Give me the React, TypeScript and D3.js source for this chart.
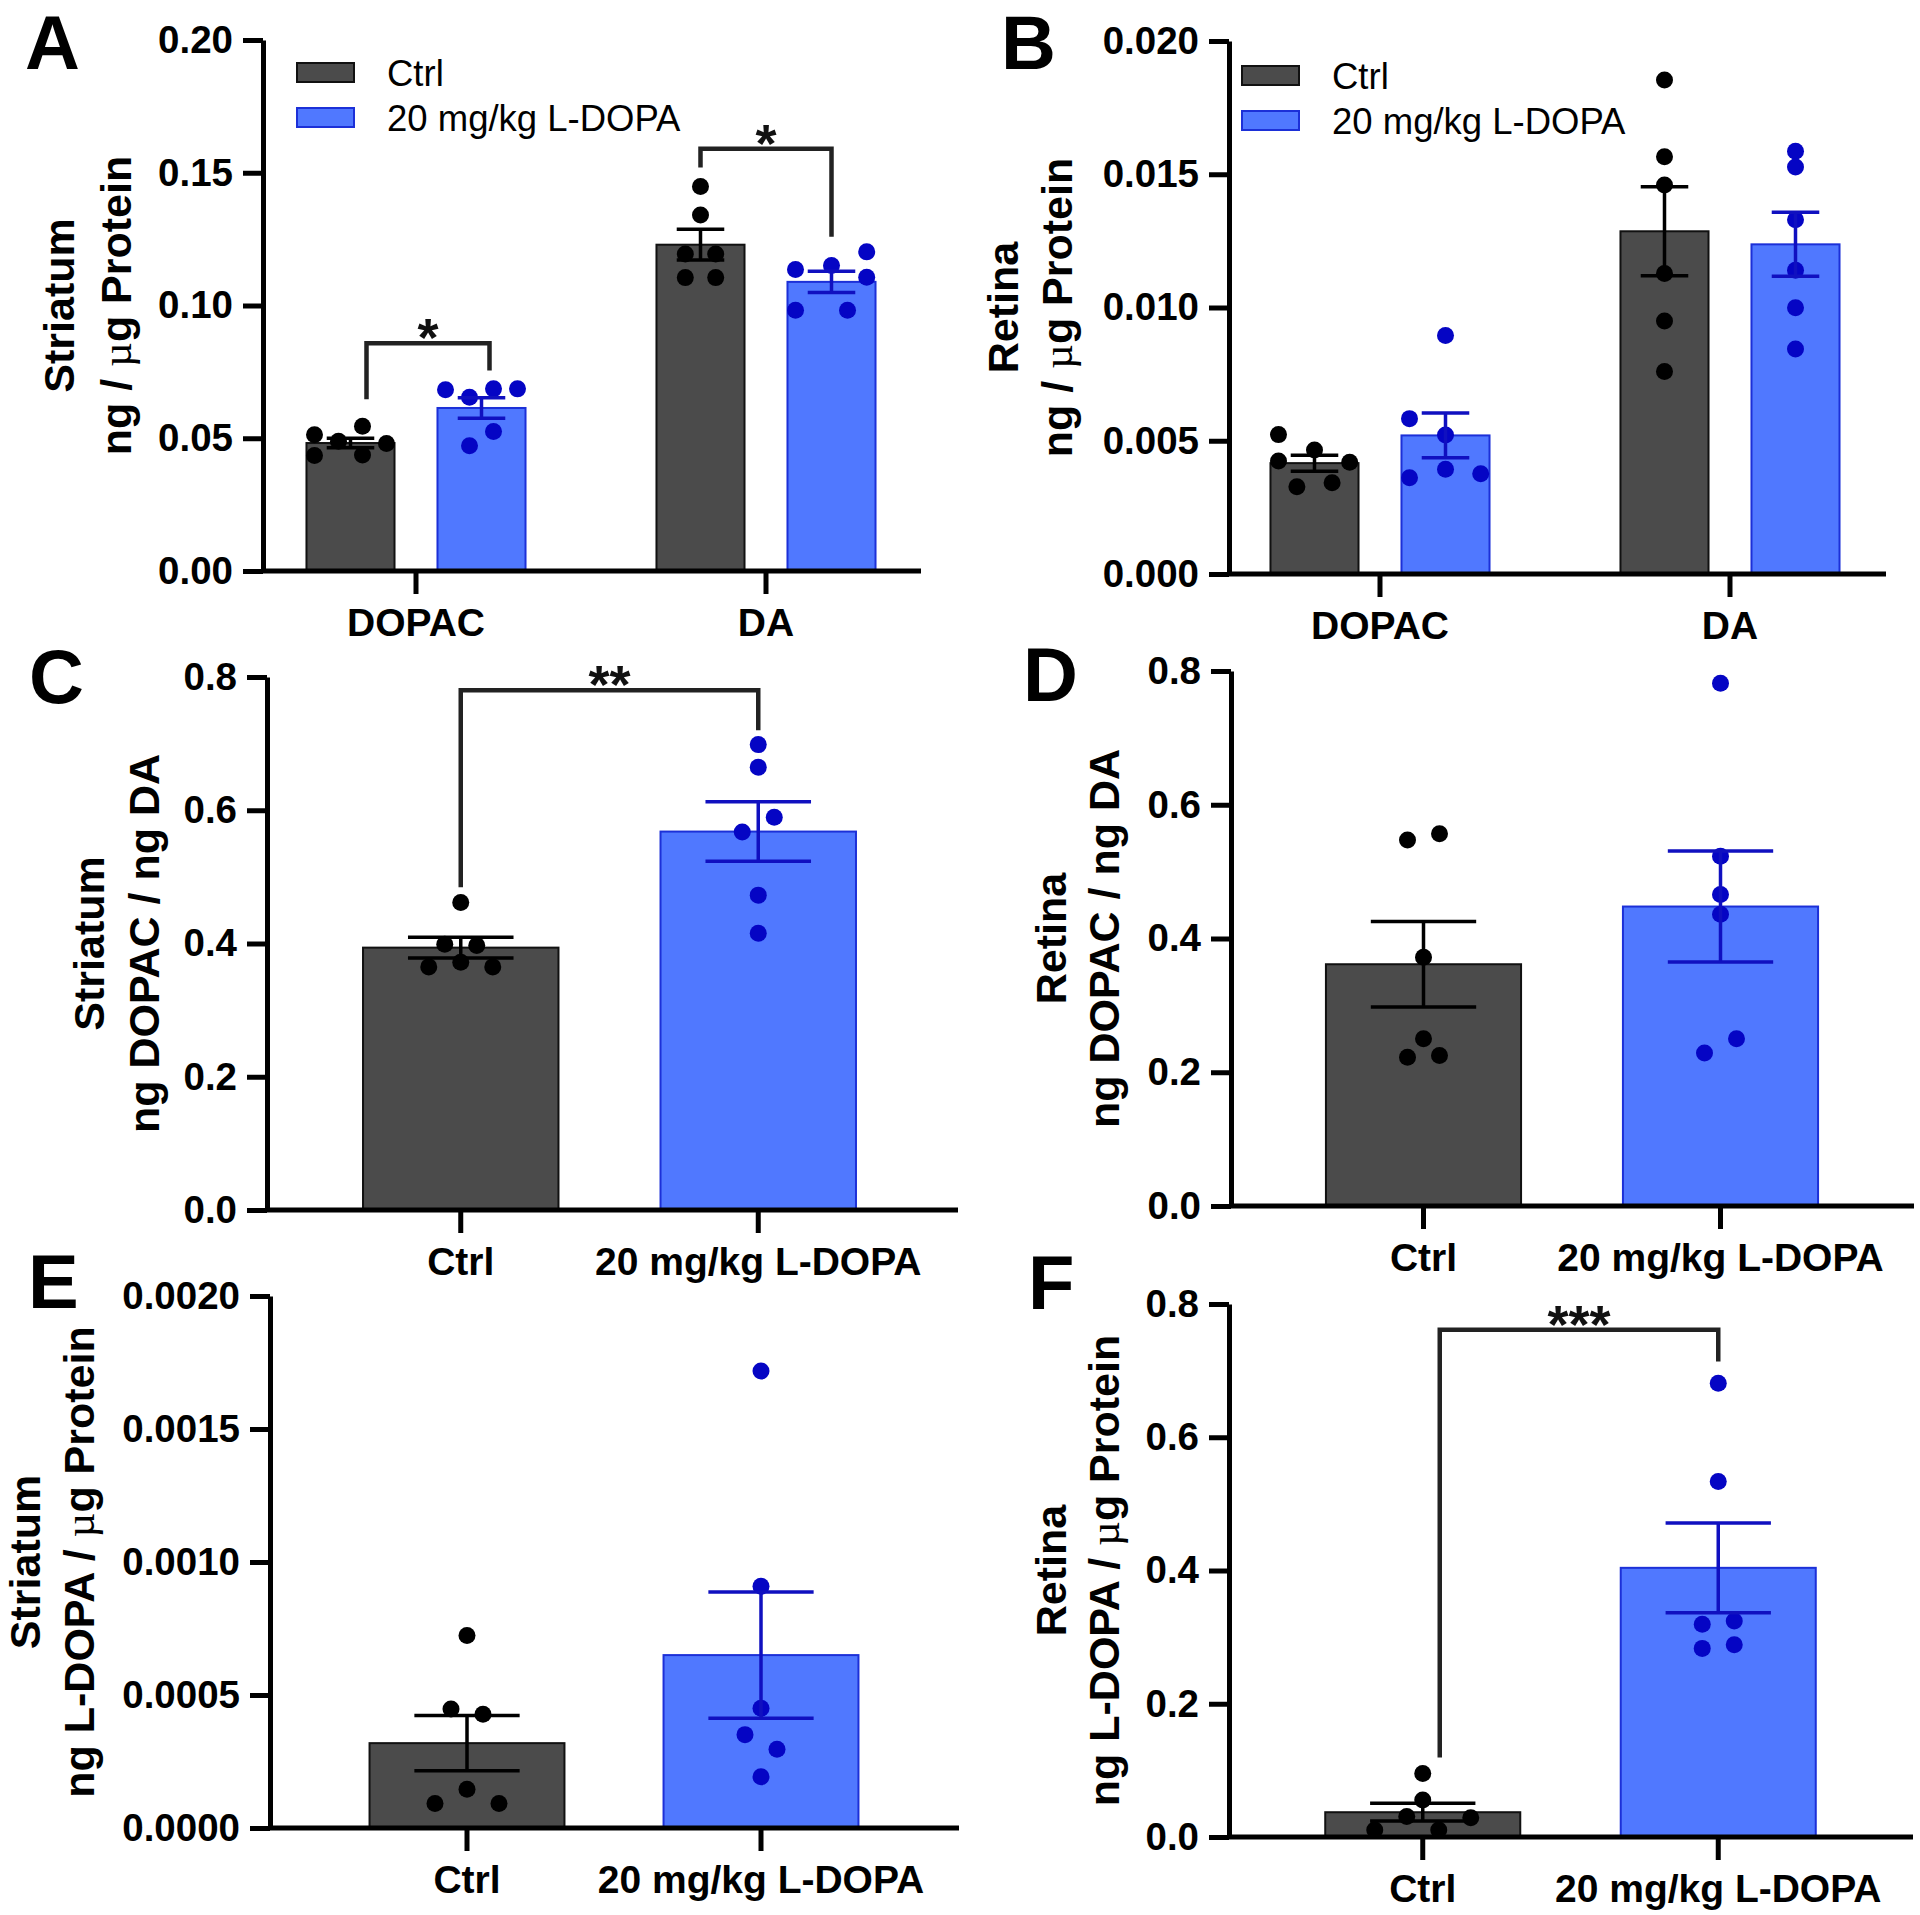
import React, { useEffect, useRef } from 'react';
import * as d3 from 'd3';

const groups = ['Ctrl', '20 mg/kg L-DOPA'];
const analytes = ['DOPAC', 'DA'];

// A: striatum, ng / ug protein
const aTicks = [0, 0.05, 0.1, 0.15, 0.2];
const aCtrlMean = [0.0482, 0.1229];
const aCtrlSem = [0.0018, 0.0058];
const aDopaMean = [0.0614, 0.1089];
const aDopaSem = [0.0039, 0.004];
const aCtrlDots = [
  [0.0513, 0.0489, 0.0545, 0.048, 0.0435, 0.0437],
  [0.1448, 0.1341, 0.1194, 0.1194, 0.1105, 0.1105],
];
const aCtrlSpread = [
  [-2.25, -0.75, 0.75, 2.25, -2.25, 0.75],
  [0, 0, -0.95, 0.95, -0.95, 0.95],
];
const aDopaDots = [
  [0.0683, 0.0654, 0.0686, 0.0686, 0.0525, 0.0472],
  [0.1136, 0.1151, 0.1202, 0.1106, 0.0982, 0.0982],
];
const aDopaSpread = [
  [-2.25, -0.75, 0.75, 2.25, 0.75, -0.75],
  [-2.25, 0, 2.2, 2.2, -2.25, 1],
];

// B: retina, ng / ug protein
const bTicks = [0, 0.005, 0.01, 0.015, 0.02];
const bCtrlMean = [0.00416, 0.01286];
const bCtrlSem = [0.0003, 0.00167];
const bDopaMean = [0.0052, 0.01237];
const bDopaSem = [0.00084, 0.0012];
const bCtrlDots = [
  [0.00523, 0.00465, 0.00424, 0.00419, 0.00327, 0.00342],
  [0.01854, 0.01566, 0.0146, 0.01128, 0.00949, 0.0076],
];
const bCtrlSpread = [
  [-2.25, 0, -2.25, 2.2, -1.1, 1.1],
  [0, 0, 0, 0, 0, 0],
];
const bDopaDots = [
  [0.00895, 0.00583, 0.00522, 0.00361, 0.00393, 0.00376],
  [0.01586, 0.01527, 0.01329, 0.0114, 0.00999, 0.00844],
];
const bDopaSpread = [
  [0, -2.25, 0, -2.25, 0, 2.2],
  [0, 0, 0, 0, 0, 0],
];

// C: striatum DOPAC / DA
const cTicks = [0, 0.2, 0.4, 0.6, 0.8];
const cMean = [0.3938, 0.568];
const cSem = [0.0154, 0.0446];
const cDots = [
  [0.4615, 0.3988, 0.3969, 0.3649, 0.3717, 0.3649],
  [0.6985, 0.6646, 0.5895, 0.5674, 0.4726, 0.4154],
];
const cSpread = [
  [0, -1, 1, -2, 0, 2],
  [0, 0, 1, -1, 0, 0],
];

// D: retina DOPAC / DA
const dTicks = [0, 0.2, 0.4, 0.6, 0.8];
const dMean = [0.3615, 0.4478];
const dSem = [0.0638, 0.083];
const dDots = [
  [0.5474, 0.5566, 0.3721, 0.2501, 0.2225, 0.225],
  [0.7816, 0.5229, 0.4659, 0.4364, 0.2501, 0.2287],
];
const dSpread = [
  [-1, 1, 0, 0, -1, 1],
  [0, 0, 0, 0, 1, -1],
];

// E: striatum L-DOPA
const eTicks = [0, 0.0005, 0.001, 0.0015, 0.002];
const eMean = [0.000319, 0.00065];
const eSem = [0.000104, 0.000237];
const eDots = [
  [0.000724, 0.000447, 0.000428, 0.000146, 0.0000924, 0.0000924],
  [0.001718, 0.000909, 0.00045, 0.000351, 0.000296, 0.000193],
];
const eSpread = [
  [0, -1, 1, 0, -2, 2],
  [0, 0, 0, -1, 1, 0],
];

// F: retina L-DOPA
const fTicks = [0, 0.2, 0.4, 0.6, 0.8];
const fMean = [0.0372, 0.404];
const fSem = [0.0133, 0.0674];
const fDots = [
  [0.0954, 0.0554, 0.0308, 0.0289, 0.0105, 0.0105],
  [0.6812, 0.5335, 0.3194, 0.3243, 0.2831, 0.2886],
];
const fSpread = [
  [0, 0, -1, 3, -3, 1],
  [0, 0, -1, 1, -1, 1],
];

const FONT = "'Liberation Sans', Arial, Helvetica, sans-serif";
const FILL = ['#4b4b4b', '#5078ff'];
const EDGE = ['#111111', '#1c30d8'];
const DOT = ['#000000', '#0505c4'];
const ERR = ['#000000', '#1010c0'];

// grouped panels (A, B): bars keyed by analyte + group
function groupedBars(cm, cs, cd, csp, dm, ds, dd, dsp) {
  const out = [];
  analytes.forEach((a, i) => {
    out.push({ cat: a, sub: groups[0], grp: 0, mean: cm[i], sem: cs[i], dots: cd[i], spread: csp[i] });
    out.push({ cat: a, sub: groups[1], grp: 1, mean: dm[i], sem: ds[i], dots: dd[i], spread: dsp[i] });
  });
  return out;
}
function simpleBars(m, s, d, sp) {
  return groups.map((g, i) => ({ cat: g, sub: 'all', grp: i, mean: m[i], sem: s[i], dots: d[i], spread: sp[i] }));
}

const panels = [
  {
    letter: 'A', letterPos: [25, 69],
    axisX: 263, xEnd: 921, yTop: 40, yBottom: 571, ticks: aTicks, fmt: '.2f',
    cats: analytes, subs: groups, band: [241, 941], padOut: 0.2514, padIn: 0.328,
    bars: groupedBars(aCtrlMean, aCtrlSem, aCtrlDots, aCtrlSpread, aDopaMean, aDopaSem, aDopaDots, aDopaSpread),
    title: ['Striatum', 'ng / µg Protein'], titleX: [74, 131],
    legend: [297, 63], step: 16,
    brackets: [
      { a: 0, b: 1, y: 0.0858, yl: 0.0647, yr: 0.0755, text: '*', dxl: 16, dxr: 8 },
      { a: 2, b: 3, y: 0.159, yl: 0.152, yr: 0.1259, text: '*', dxl: 0, dxr: 0 },
    ],
  },
  {
    letter: 'B', letterPos: [1001, 69],
    axisX: 1229, xEnd: 1886, yTop: 41, yBottom: 574, ticks: bTicks, fmt: '.3f',
    cats: analytes, subs: groups, band: [1205, 1905], padOut: 0.2514, padIn: 0.328,
    bars: groupedBars(bCtrlMean, bCtrlSem, bCtrlDots, bCtrlSpread, bDopaMean, bDopaSem, bDopaDots, bDopaSpread),
    title: ['Retina', 'ng / µg Protein'], titleX: [1018, 1072],
    legend: [1242, 66], step: 16, brackets: [],
  },
  {
    letter: 'C', letterPos: [29, 703],
    axisX: 267, xEnd: 958, yTop: 677, yBottom: 1210, ticks: cTicks, fmt: '.1f',
    cats: groups, subs: ['all'], band: [312, 907], padOut: 0.343, padIn: 0,
    bars: simpleBars(cMean, cSem, cDots, cSpread),
    title: ['Striatum', 'ng DOPAC / ng DA'], titleX: [104, 159],
    step: 16,
    brackets: [{ a: 0, b: 1, y: 0.7803, yl: 0.4843, yr: 0.72, text: '**', dxl: 0, dxr: 0 }],
  },
  {
    letter: 'D', letterPos: [1023, 701],
    axisX: 1231, xEnd: 1914, yTop: 671, yBottom: 1206, ticks: dTicks, fmt: '.1f',
    cats: groups, subs: ['all'], band: [1275, 1869], padOut: 0.343, padIn: 0,
    bars: simpleBars(dMean, dSem, dDots, dSpread),
    title: ['Retina', 'ng DOPAC / ng DA'], titleX: [1066, 1119],
    step: 16, brackets: [],
  },
  {
    letter: 'E', letterPos: [28, 1308],
    axisX: 270, xEnd: 959, yTop: 1296, yBottom: 1828, ticks: eTicks, fmt: '.4f',
    cats: groups, subs: ['all'], band: [320, 908], padOut: 0.337, padIn: 0,
    bars: simpleBars(eMean, eSem, eDots, eSpread),
    title: ['Striatum', 'ng L-DOPA / µg Protein'], titleX: [40, 94],
    step: 16, brackets: [],
  },
  {
    letter: 'F', letterPos: [1028, 1309],
    axisX: 1229, xEnd: 1913, yTop: 1304, yBottom: 1837, ticks: fTicks, fmt: '.1f',
    cats: groups, subs: ['all'], band: [1275, 1866], padOut: 0.34, padIn: 0,
    bars: simpleBars(fMean, fSem, fDots, fSpread),
    title: ['Retina', 'ng L-DOPA / µg Protein'], titleX: [1066, 1119],
    step: 16,
    brackets: [{ a: 0, b: 1, y: 0.7612, yl: 0.1194, yr: 0.7138, text: '***', dxl: 17, dxr: 0 }],
  },
];

// text with the mu drawn in a plain serif face, like the original
function muText(sel, str) {
  const parts = str.split('µ');
  parts.forEach((s, i) => {
    if (i > 0) sel.append('tspan').attr('font-family', "'Liberation Serif', serif").attr('font-weight', 'normal').text('µ');
    sel.append('tspan').text(s);
  });
}

function drawPanel(svg, p) {
  const g = svg.append('g');
  const ticks = p.ticks;
  const y = d3.scaleLinear().domain([0, ticks[ticks.length - 1]]).range([p.yBottom, p.yTop]);
  const outer = d3.scaleBand().domain(p.cats).range(p.band).paddingInner(p.padOut).paddingOuter(p.padOut / 2);
  const inner = d3.scaleBand().domain(p.subs).range([0, outer.bandwidth()]).paddingInner(p.padIn).paddingOuter(p.padIn / 2);
  const bw = inner.bandwidth();
  const cx = (b) => outer(b.cat) + inner(b.sub) + bw / 2;

  // bars
  g.selectAll('rect.bar').data(p.bars).join('rect')
    .attr('class', 'bar')
    .attr('x', (b) => outer(b.cat) + inner(b.sub))
    .attr('width', bw)
    .attr('y', (b) => y(b.mean))
    .attr('height', (b) => y(0) - y(b.mean))
    .attr('fill', (b) => FILL[b.grp])
    .attr('stroke', (b) => EDGE[b.grp])
    .attr('stroke-width', 2);

  // dots
  p.bars.forEach((b) => {
    g.selectAll(null).data(b.dots).join('circle')
      .attr('cx', (d, i) => cx(b) + b.spread[i] * p.step)
      .attr('cy', (d) => y(d))
      .attr('r', 8.5)
      .attr('fill', DOT[b.grp]);
  });

  // error bars (mean +/- SEM)
  p.bars.forEach((b) => {
    const x = cx(b);
    const cap = bw * 0.27;
    const path = d3.path();
    path.moveTo(x, y(b.mean - b.sem));
    path.lineTo(x, y(b.mean + b.sem));
    path.moveTo(x - cap, y(b.mean + b.sem));
    path.lineTo(x + cap, y(b.mean + b.sem));
    path.moveTo(x - cap, y(b.mean - b.sem));
    path.lineTo(x + cap, y(b.mean - b.sem));
    g.append('path').attr('d', path.toString())
      .attr('fill', 'none').attr('stroke', ERR[b.grp]).attr('stroke-width', 3.5);
  });

  // y axis
  const ga = g.append('g').attr('transform', `translate(${p.axisX},0)`)
    .call(d3.axisLeft(y).tickValues(ticks).tickSize(20).tickSizeOuter(0).tickPadding(10).tickFormat(d3.format(p.fmt)));
  ga.select('.domain').attr('stroke', '#000').attr('stroke-width', 5);
  ga.selectAll('.tick line').attr('stroke', '#000').attr('stroke-width', 5);
  ga.selectAll('.tick text').attr('font-family', FONT).attr('font-weight', 'bold').attr('font-size', 38.5).attr('fill', '#000');

  // x axis
  g.append('line').attr('x1', p.axisX).attr('x2', p.xEnd).attr('y1', p.yBottom).attr('y2', p.yBottom)
    .attr('stroke', '#000').attr('stroke-width', 5);
  const gx = g.append('g').attr('transform', `translate(0,${p.yBottom})`)
    .call(d3.axisBottom(outer).tickSize(23).tickSizeOuter(0).tickPadding(14));
  gx.select('.domain').remove();
  gx.selectAll('.tick line').attr('stroke', '#000').attr('stroke-width', 5);
  gx.selectAll('.tick text').attr('font-family', FONT).attr('font-weight', 'bold').attr('font-size', 39).attr('fill', '#000');

  // brackets
  p.brackets.forEach((k) => {
    const xl = cx(p.bars[k.a]) + k.dxl;
    const xr = cx(p.bars[k.b]) + k.dxr;
    const path = d3.path();
    path.moveTo(xl, y(k.yl));
    path.lineTo(xl, y(k.y));
    path.lineTo(xr, y(k.y));
    path.lineTo(xr, y(k.yr));
    g.append('path').attr('d', path.toString()).attr('fill', 'none')
      .attr('stroke', '#222').attr('stroke-width', 4.5);
    g.append('text').attr('x', (xl + xr) / 2).attr('y', y(k.y) + 13)
      .attr('text-anchor', 'middle').attr('font-family', FONT).attr('font-weight', 'bold')
      .attr('font-size', 54).attr('fill', '#111').text(k.text);
  });

  // axis title, two lines rotated
  const mid = (p.yTop + p.yBottom) / 2;
  p.title.forEach((t, i) => {
    const tx = g.append('text')
      .attr('transform', `translate(${p.titleX[i]},${mid}) rotate(-90)`)
      .attr('text-anchor', 'middle').attr('font-family', FONT).attr('font-weight', 'bold')
      .attr('font-size', 43).attr('fill', '#000');
    muText(tx, t);
  });

  // legend
  if (p.legend) {
    groups.forEach((name, i) => {
      const lx = p.legend[0];
      const ly = p.legend[1] + i * 45;
      g.append('rect').attr('x', lx).attr('y', ly).attr('width', 57).attr('height', 19)
        .attr('fill', FILL[i]).attr('stroke', EDGE[i]).attr('stroke-width', 2);
      g.append('text').attr('x', lx + 90).attr('y', ly + 23).attr('font-family', FONT)
        .attr('font-size', 36.5).attr('fill', '#000').text(name);
    });
  }

  // panel letter
  g.append('text').attr('x', p.letterPos[0]).attr('y', p.letterPos[1]).attr('font-family', FONT)
    .attr('font-weight', 'bold').attr('font-size', 76).attr('fill', '#000').text(p.letter);
}

export default function App() {
  const ref = useRef<SVGSVGElement>(null);

  useEffect(() => {
    const svg = d3.select(ref.current);
    svg.selectAll('*').remove();
    panels.forEach((p) => drawPanel(svg, p));
  }, []);

  return (
    <svg
      ref={ref}
      width={1920}
      height={1915}
      style={{ position: 'absolute', left: 0, top: 0, background: '#fff' }}
    />
  );
}
